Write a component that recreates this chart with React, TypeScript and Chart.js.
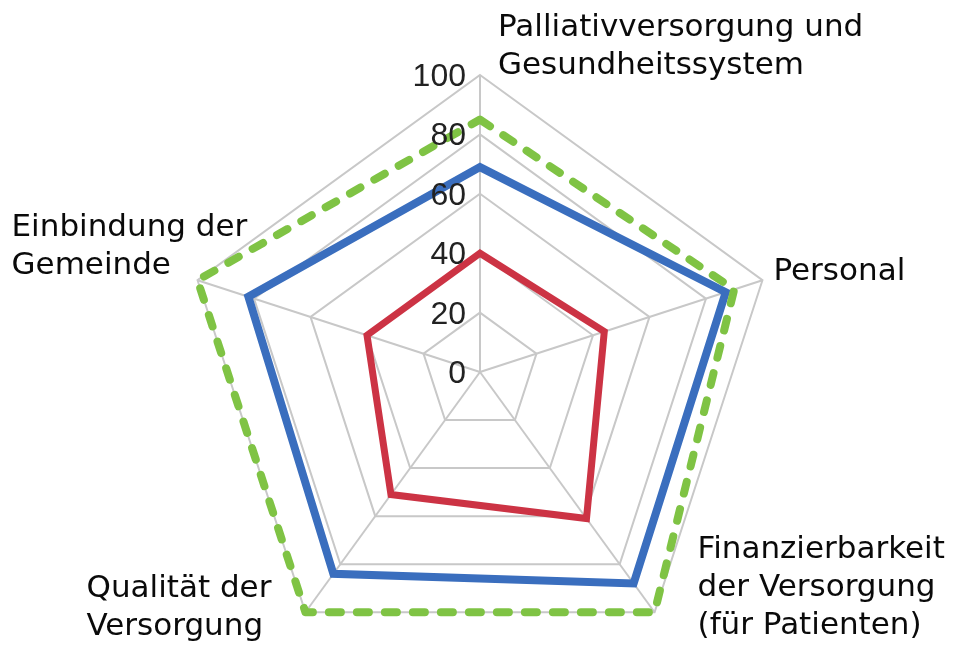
import React, { useEffect, useRef } from "react";
import { Chart, registerables } from "chart.js";

Chart.register(...registerables);

const categories: string[][] = [
  ["Palliativversorgung und", "Gesundheitssystem"],
  ["Personal"],
  ["Finanzierbarkeit", "der Versorgung", "(für Patienten)"],
  ["Qualität der", "Versorgung"],
  ["Einbindung der", "Gemeinde"],
];
const seriesRed = [40, 44, 61, 51, 40];
const seriesBlue = [69, 87, 88, 84, 82];
const seriesGreen = [85, 90, 100, 100, 100];
const tickValues = [0, 20, 40, 60, 80, 100];

// label placement relative to each outer vertex (layout only)
const labelPlacement = [
  { dx: 18, dy: -39, right: false },
  { dx: 11, dy: 0, right: false },
  { dx: 43, dy: -54, right: false },
  { dx: -34, dy: -15, right: true },
  { dx: -186, dy: -44, right: false },
];

const labelPlugin = {
  id: "customLabels",
  afterDraw(chart: any) {
    const scale = chart.scales.r;
    const ctx = chart.ctx as CanvasRenderingContext2D;
    ctx.save();
    ctx.font = '32px "Liberation Sans"';
    ctx.fillStyle = "#222222";
    ctx.textAlign = "right";
    ctx.textBaseline = "alphabetic";
    tickValues.forEach((v) => {
      const p = scale.getPointPositionForValue(0, v);
      ctx.fillText(String(v), p.x - 14, p.y + 11);
    });
    ctx.font = '31px "DejaVu Sans"';
    ctx.fillStyle = "#0a0a0a";
    ctx.textAlign = "left";
    const LH = 38;
    categories.forEach((lines, i) => {
      const v = scale.getPointPositionForValue(i, scale.max);
      const pl = labelPlacement[i];
      const maxW = Math.max(...lines.map((l) => ctx.measureText(l).width));
      const x = pl.right ? v.x + pl.dx - maxW : v.x + pl.dx;
      lines.forEach((l, j) => {
        ctx.fillText(l, x, v.y + pl.dy + j * LH);
      });
    });
    ctx.restore();
  },
};

export default function App() {
  const ref = useRef<HTMLCanvasElement | null>(null);
  useEffect(() => {
    document.body.style.margin = "0";
    if (!ref.current) return;
    const chart = new Chart(ref.current, {
      type: "radar",
      data: {
        labels: categories,
        datasets: [
          {
            label: "Green",
            data: seriesGreen,
            borderColor: "#7fc344",
            borderWidth: 8,
            borderDash: [12, 16],
            borderCapStyle: "round",
            borderJoinStyle: "round",
            fill: false,
            pointRadius: 0,
          },
          {
            label: "Blue",
            data: seriesBlue,
            borderColor: "#3a6ebe",
            borderWidth: 8,
            borderJoinStyle: "miter",
            fill: false,
            pointRadius: 0,
          },
          {
            label: "Red",
            data: seriesRed,
            borderColor: "#cc3344",
            borderWidth: 7,
            borderJoinStyle: "miter",
            fill: false,
            pointRadius: 0,
          },
        ],
      },
      options: {
        responsive: false,
        animation: false,
        layout: { padding: { left: 5, right: 0, top: 75, bottom: 31 } },
        plugins: { legend: { display: false }, tooltip: { enabled: false } },
        scales: {
          r: {
            min: 0,
            max: 100,
            ticks: { display: false, stepSize: 20 },
            grid: { color: "#c8c8c8", lineWidth: 2 },
            angleLines: { color: "#c8c8c8", lineWidth: 2 },
            pointLabels: { display: false },
          },
        },
      },
      plugins: [labelPlugin],
    });
    return () => chart.destroy();
  }, []);
  return (
    <div style={{ width: 955, height: 646, overflow: "hidden", position: "relative", background: "#fff" }}>
      <canvas ref={ref} width={955} height={700} style={{ position: "absolute", left: 0, top: 0 }} />
    </div>
  );
}
